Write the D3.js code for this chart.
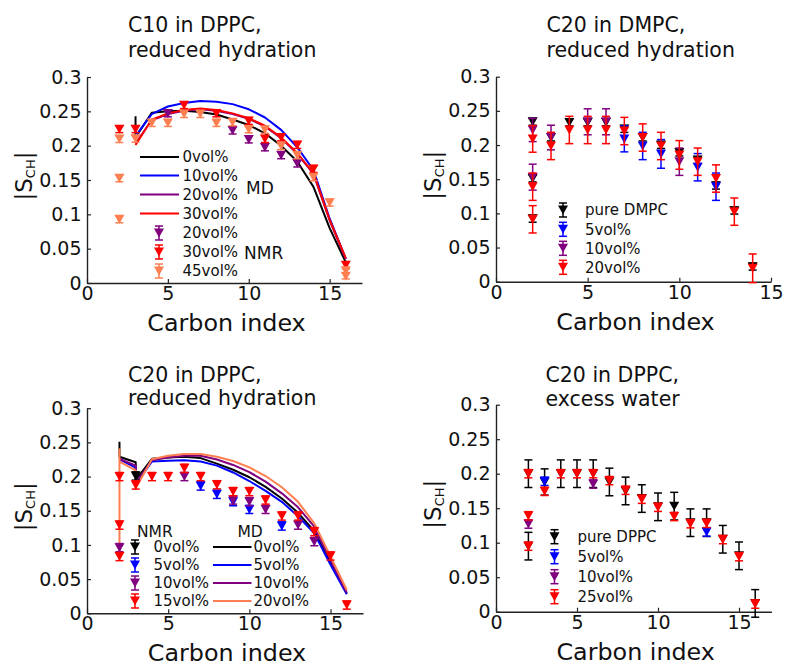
<!DOCTYPE html>
<html>
<head>
<meta charset="utf-8">
<script src="https://cdn.jsdelivr.net/npm/d3@7"></script>
<style>
  html, body { margin: 0; padding: 0; background: #fff; }
  svg { display: block; font-family: "DejaVu Sans", sans-serif; }
</style>
</head>
<body>
<svg id="chart" width="786" height="666"></svg>
<script>
// ---------------- data ----------------
// MD profiles: [carbon index, |S_CH|]; repeated carbons are the split C2/C3 values
// NMR points: [carbon index, |S_CH|, error]

// C10 in DPPC, reduced hydration
const A_md0  = [[3,0.243],[3,0.212],[4,0.248],[5,0.250],[6,0.251],[7,0.249],[8,0.2455],[9,0.238],[10,0.230],[11,0.218],[12,0.200],[13,0.177],[14,0.140],[15,0.080],[16,0.030]];
const A_md10 = [[3,0.214],[4,0.246],[5,0.257],[6,0.262],[7,0.265],[8,0.264],[9,0.2605],[10,0.253],[11,0.241],[12,0.223],[13,0.1975],[14,0.1645],[15,0.094],[16,0.035]];
const A_md20 = [[3,0.203],[4,0.237],[5,0.246],[6,0.251],[7,0.253],[8,0.251],[9,0.246],[10,0.239],[11,0.228],[12,0.211],[13,0.188],[14,0.159],[15,0.091],[16,0.035]];
const A_md30 = [[3,0.201],[4,0.238],[5,0.247],[6,0.252],[7,0.254],[8,0.252],[9,0.247],[10,0.240],[11,0.229],[12,0.212],[13,0.189],[14,0.160],[15,0.092],[16,0.036]];
const A_nmr20 = [[5,0.247,0.005],[9,0.222,0.005],[10,0.209,0.005],[11,0.1975,0.005],[12,0.186,0.005],[13,0.174,0.005]];
const A_nmr30 = [[2,0.224,0.005],[3,0.224,0.005],[6,0.259,0.005],[8,0.247,0.005],[10,0.236,0.005],[11,0.2096,0.005],[12,0.212,0.005],[13,0.201,0.005],[14,0.166,0.005],[16,0.026,0.005]];
const A_nmr45 = [[2,0.2096,0.005],[2,0.1524,0.005],[2,0.0927,0.005],[3,0.21,0.005],[4,0.233,0.005],[5,0.233,0.005],[6,0.246,0.005],[7,0.246,0.005],[8,0.233,0.005],[9,0.234,0.005],[10,0.2237,0.005],[11,0.223,0.005],[12,0.1994,0.005],[13,0.186,0.005],[14,0.154,0.005],[15,0.117,0.005],[16,0.018,0.004],[16,0.010,0.004]];

// C20 in DMPC, reduced hydration
const B_pure = [[2,0.234,0.005],[2,0.151,0.005],[2,0.092,0.005],[3,0.211,0.005],[4,0.233,0.005],[5,0.233,0.005],[6,0.233,0.005],[7,0.2235,0.005],[8,0.211,0.005],[9,0.200,0.005],[10,0.189,0.005],[11,0.178,0.005],[12,0.1405,0.005],[13,0.104,0.005],[14,0.022,0.005]];
const B_5    = [[7,0.209,0.019],[8,0.1986,0.02],[9,0.187,0.021],[11,0.1675,0.02],[12,0.139,0.02]];
const B_10   = [[2,0.222,0.017],[2,0.153,0.019],[3,0.211,0.018],[5,0.234,0.019],[6,0.234,0.019],[10,0.1756,0.02]];
const B_20   = [[2,0.209,0.0195],[2,0.139,0.02],[2,0.0913,0.02],[3,0.1986,0.02],[4,0.222,0.02],[5,0.222,0.02],[6,0.222,0.02],[7,0.2205,0.02],[8,0.211,0.02],[9,0.1986,0.02],[10,0.1855,0.021],[11,0.1756,0.02],[12,0.151,0.02],[13,0.1025,0.02],[14,0.0196,0.021]];

// C20 in DPPC, reduced hydration
const C_md0  = [[2,0.251],[2,0.229],[3,0.221],[3,0.195],[4,0.226],[5,0.228],[6,0.229],[7,0.227],[8,0.219],[9,0.210],[10,0.199],[11,0.185],[12,0.168],[13,0.147],[14,0.120],[15,0.074],[16,0.029]];
const C_md5  = [[2,0.225],[3,0.213],[3,0.188],[4,0.222],[5,0.2233],[6,0.224],[7,0.222],[8,0.216],[9,0.206],[10,0.1935],[11,0.179],[12,0.163],[13,0.142],[14,0.117],[15,0.071],[16,0.028]];
const C_md10 = [[2,0.226],[3,0.216],[3,0.190],[4,0.224],[5,0.228],[6,0.2305],[7,0.2305],[8,0.225],[9,0.217],[10,0.2065],[11,0.1926],[12,0.1755],[13,0.155],[14,0.1267],[15,0.078],[16,0.030]];
const C_md20 = [[2,0.083],[2,0.240],[2,0.222],[3,0.209],[3,0.183],[4,0.2253],[5,0.2305],[6,0.233],[7,0.233],[8,0.229],[9,0.2227],[10,0.2135],[11,0.2008],[12,0.1843],[13,0.163],[14,0.1316],[15,0.083],[16,0.034]];
const C_nmr0  = [[3,0.2008,0.006]];
const C_nmr5  = [[7,0.1862,0.006],[8,0.174,0.006],[9,0.1633,0.006],[10,0.152,0.006],[12,0.1277,0.006]];
const C_nmr10 = [[2,0.096,0.006],[6,0.200,0.006],[9,0.1657,0.006],[10,0.1633,0.006],[11,0.152,0.006],[13,0.129,0.006],[14,0.1048,0.006]];
const C_nmr15 = [[2,0.200,0.006],[2,0.129,0.006],[2,0.083,0.006],[3,0.1877,0.006],[4,0.200,0.006],[5,0.200,0.006],[6,0.212,0.006],[7,0.200,0.006],[8,0.188,0.006],[9,0.178,0.006],[10,0.178,0.006],[11,0.1657,0.006],[12,0.1423,0.006],[13,0.1423,0.006],[14,0.1194,0.006],[15,0.0838,0.006],[16,0.0121,0.006]];

// C20 in DPPC, excess water
const D_pure = [[2,0.200,0.02],[2,0.095,0.02],[3,0.188,0.019],[4,0.200,0.02],[5,0.200,0.02],[6,0.200,0.02],[7,0.188,0.02],[8,0.175,0.02],[9,0.164,0.02],[10,0.152,0.02],[11,0.153,0.02],[12,0.129,0.02],[13,0.129,0.02],[14,0.105,0.02],[15,0.081,0.02],[16,0.012,0.02]];
const D_5    = [[3,0.189,0.006],[13,0.1155,0.006]];
const D_10   = [[2,0.127,0.006],[6,0.185,0.006]];
const D_25   = [[2,0.200,0.006],[2,0.139,0.006],[2,0.095,0.006],[3,0.1744,0.006],[4,0.200,0.006],[5,0.200,0.006],[6,0.200,0.006],[7,0.190,0.006],[8,0.176,0.006],[9,0.163,0.006],[10,0.1513,0.006],[11,0.138,0.006],[12,0.1275,0.006],[13,0.128,0.006],[14,0.1045,0.006],[15,0.0797,0.006],[16,0.011,0.006]];

const xTicks = [0, 5, 10, 15];
const yTicks = [0, 0.05, 0.1, 0.15, 0.2, 0.25, 0.3];
const xLabel = "Carbon index";

// ---------------- colours ----------------
const BLACK = "#000000", BLUE = "#0000ff", PURPLE = "#800080", RED = "#ff0000", CORAL = "#ff7f50";

// ---------------- panels ----------------
const panels = [
  {
    x0: 87, x1: 362, yTop: 77, yBot: 283, xMax: 17,
    title: ["C10 in DPPC,", "reduced hydration"], titleX: 128, titleY: [32, 57],
    md: [[A_md0, BLACK], [A_md10, BLUE], [A_md20, PURPLE], [A_md30, RED]],
    nmr: [[A_nmr20, PURPLE], [A_nmr30, RED], [A_nmr45, CORAL]],
    legend: {
      lines: { x1: 140, x2: 179, tx: 182.5, ys: [157, 175.5, 194.5, 213.5],
               items: [[BLACK, "0vol%"], [BLUE, "10vol%"], [PURPLE, "20vol%"], [RED, "30vol%"]] },
      marks: { mx: 159, tx: 182.5, ys: [233, 252, 271],
               items: [[PURPLE, "20vol%"], [RED, "30vol%"], [CORAL, "45vol%"]] },
      heads: [["MD", 246, 188, 17], ["NMR", 244, 253, 17]]
    }
  },
  {
    x0: 496, x1: 771, yTop: 76.7, yBot: 281.7, xMax: 15,
    title: ["C20 in DMPC,", "reduced hydration"], titleX: 546.5, titleY: [32, 57],
    md: [],
    nmr: [[B_pure, BLACK], [B_5, BLUE], [B_10, PURPLE], [B_20, RED]],
    legend: {
      marks: { mx: 563, tx: 585, ys: [210, 229.3, 248.3, 267.3],
               items: [[BLACK, "pure DMPC"], [BLUE, "5vol%"], [PURPLE, "10vol%"], [RED, "20vol%"]] },
      heads: []
    }
  },
  {
    x0: 87, x1: 363, yTop: 408.2, yBot: 613.3, xMax: 17,
    title: ["C20 in DPPC,", "reduced hydration"], titleX: 128, titleY: [382, 405],
    md: [[C_md0, BLACK], [C_md5, BLUE], [C_md10, PURPLE], [C_md20, CORAL]],
    nmr: [[C_nmr0, BLACK], [C_nmr5, BLUE], [C_nmr10, PURPLE], [C_nmr15, RED]],
    legend: {
      marks: { mx: 135, tx: 153.5, ys: [547, 565, 583, 601],
               items: [[BLACK, "0vol%"], [BLUE, "5vol%"], [PURPLE, "10vol%"], [RED, "15vol%"]] },
      lines: { x1: 213, x2: 251.5, tx: 253.5, ys: [547, 565, 583, 601],
               items: [[BLACK, "0vol%"], [BLUE, "5vol%"], [PURPLE, "10vol%"], [CORAL, "20vol%"]] },
      heads: [["NMR", 137, 531, 15.5], ["MD", 237.5, 531, 15.5]]
    }
  },
  {
    x0: 496, x1: 771.4, yTop: 404.7, yBot: 611.7, xMax: 17,
    title: ["C20 in DPPC,", "excess water"], titleX: 545.5, titleY: [382, 406],
    md: [],
    nmr: [[D_pure, BLACK], [D_5, BLUE], [D_10, PURPLE], [D_25, RED]],
    legend: {
      marks: { mx: 554.5, tx: 577.5, ys: [536.7, 556.7, 576.7, 596.7],
               items: [[BLACK, "pure DPPC"], [BLUE, "5vol%"], [PURPLE, "10vol%"], [RED, "25vol%"]] },
      heads: []
    }
  }
];

// ---------------- drawing ----------------
const svg = d3.select("#chart");
const AXIS_COLOR = "#222";
const fmtY = v => v === 0 ? "0" : String(+v.toFixed(2));

// downward triangle marker centred on (cx, cy)
const tri = (cx, cy) => `M${cx - 5},${cy - 4.5}L${cx + 5},${cy - 4.5}L${cx},${cy + 4.5}Z`;

function errorMark(g, cx, yHi, yLo, color) {
  g.append("line").attr("x1", cx).attr("x2", cx).attr("y1", yHi).attr("y2", yLo)
    .attr("stroke", color).attr("stroke-width", 1.5);
  [yHi, yLo].forEach(yy => g.append("line")
    .attr("x1", cx - 4).attr("x2", cx + 4).attr("y1", yy).attr("y2", yy)
    .attr("stroke", color).attr("stroke-width", 1.5));
}

panels.forEach(p => {
  const g = svg.append("g");
  const x = d3.scaleLinear().domain([0, p.xMax]).range([p.x0, p.x1]);
  const y = d3.scaleLinear().domain([0, 0.3]).range([p.yBot, p.yTop]);

  // axes
  const ax = g.append("g").attr("transform", `translate(0,${p.yBot})`)
    .call(d3.axisBottom(x).tickValues(xTicks).tickFormat(d3.format("d"))
      .tickSizeInner(-4).tickSizeOuter(0).tickPadding(3.5));
  const ay = g.append("g").attr("transform", `translate(${p.x0},0)`)
    .call(d3.axisLeft(y).tickValues(yTicks).tickFormat(fmtY)
      .tickSizeInner(-4).tickSizeOuter(0).tickPadding(5.5));
  [ax, ay].forEach(a => {
    a.attr("font-family", "DejaVu Sans").attr("font-size", 19);
    a.selectAll("path.domain").attr("stroke", AXIS_COLOR).attr("stroke-width", 1.4);
    a.selectAll(".tick line").attr("stroke", AXIS_COLOR).attr("stroke-width", 1.2);
    a.selectAll(".tick text").attr("fill", "#111");
  });

  // axis titles
  g.append("text").attr("x", (p.x0 + p.x1) / 2 + 2).attr("y", p.yBot + 48)
    .attr("text-anchor", "middle").attr("font-size", 23.8).attr("fill", "#111").text(xLabel);

  const yl = g.append("text")
    .attr("transform", `translate(${p.x0 - 55},${(p.yTop + p.yBot) / 2 - 4}) rotate(-90)`)
    .attr("text-anchor", "middle").attr("font-size", 23).attr("fill", "#111");
  yl.append("tspan").text("|S");
  yl.append("tspan").attr("font-size", 13).attr("dy", 3).text("CH");
  yl.append("tspan").attr("dy", -3).text("|");

  // panel title
  p.title.forEach((t, i) => g.append("text").attr("x", p.titleX).attr("y", p.titleY[i])
    .attr("font-size", 20.5).attr("fill", "#111").text(t));

  // MD profiles
  const line = d3.line().x(d => x(d[0])).y(d => y(d[1]));
  p.md.forEach(([data, color]) => g.append("path").datum(data)
    .attr("d", line).attr("fill", "none").attr("stroke", color)
    .attr("stroke-width", 2).attr("stroke-linejoin", "round"));

  // NMR points with error bars
  p.nmr.forEach(([data, color]) => {
    const sg = g.append("g");
    data.forEach(([c, v, e]) => {
      errorMark(sg, x(c), y(v + e), y(v - e), color);
      sg.append("path").attr("d", tri(x(c), y(v))).attr("fill", color);
    });
  });

  // legend
  const L = p.legend;
  if (L.lines) {
    L.lines.items.forEach(([color, label], i) => {
      const yy = L.lines.ys[i];
      g.append("line").attr("x1", L.lines.x1).attr("x2", L.lines.x2).attr("y1", yy).attr("y2", yy)
        .attr("stroke", color).attr("stroke-width", 2);
      g.append("text").attr("x", L.lines.tx).attr("y", yy).attr("dy", "0.36em")
        .attr("font-size", 15).attr("fill", "#111").text(label);
    });
  }
  if (L.marks) {
    L.marks.items.forEach(([color, label], i) => {
      const yy = L.marks.ys[i];
      errorMark(g, L.marks.mx, yy - 7, yy + 7, color);
      g.append("path").attr("d", tri(L.marks.mx, yy)).attr("fill", color);
      g.append("text").attr("x", L.marks.tx).attr("y", yy).attr("dy", "0.36em")
        .attr("font-size", 15).attr("fill", "#111").text(label);
    });
  }
  L.heads.forEach(([t, hx, hy, fs]) => g.append("text").attr("x", hx).attr("y", hy)
    .attr("dy", "0.36em").attr("font-size", fs).attr("fill", "#111").text(t));
});
</script>
</body>
</html>
